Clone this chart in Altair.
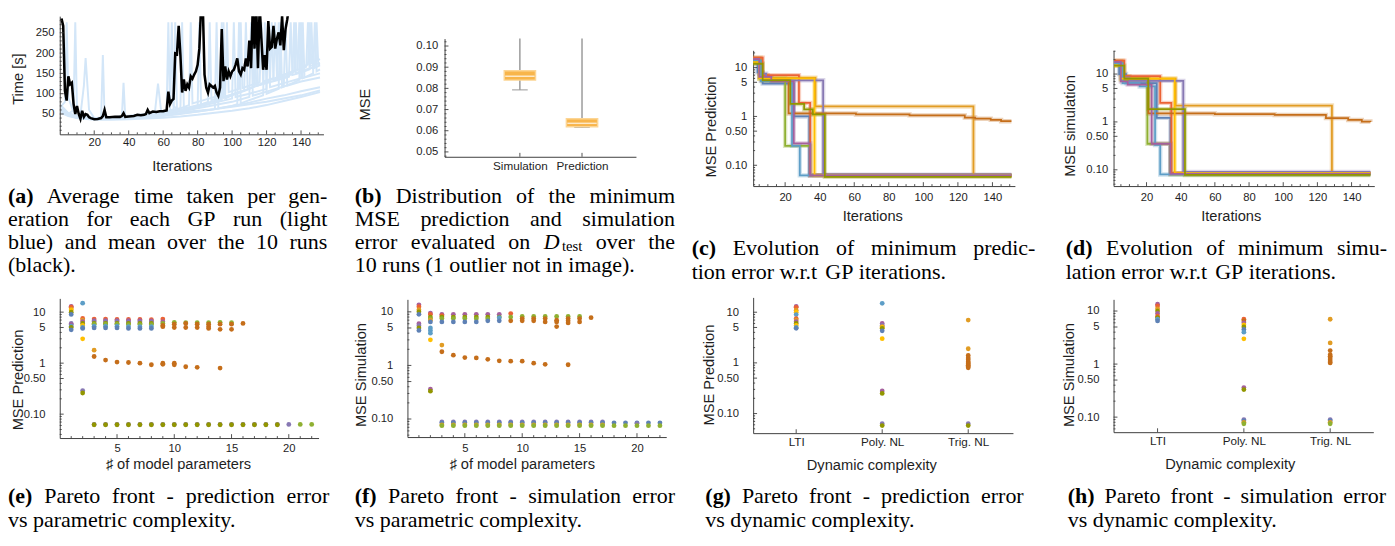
import altair as alt
import pandas as pd

# ---------------- palette / fonts ----------------
PALETTE = ["#5E81B5", "#E19C24", "#8FB032", "#EB6235", "#8778B3",
           "#C56E1A", "#5D9EC7", "#FFBF00", "#A5609D", "#929600"]
RUNS = [1, 2, 3, 4, 5, 6, 7, 8, 9, 10]
SANS = "Liberation Sans"
SERIF = "Liberation Serif"
AXC = "#3c3c3c"
TXT = "#1e1e1e"
LIGHT_BLUE = "#d3e6f8"

# ---------------- (a) time per generation (10 runs + mean) ----------------
A_X1 = [1, 5, 10, 20, 30, 40, 50, 60, 70, 80, 90, 100, 110, 120, 130, 140, 151]
A_T1 = [60, 48, 40, 36, 36, 37, 39, 41, 44, 48, 53, 58, 64, 72, 82, 92, 104]
A_X2 = [1, 3, 4, 5, 8, 10, 20, 30, 40, 50, 60, 70, 80, 90, 100, 110, 120, 130, 140, 151]
A_T2 = [70, 80, 276, 90, 55, 45, 38, 38, 40, 42, 45, 50, 56, 62, 70, 78, 88, 96, 106, 116]
A_X3 = [1, 5, 8, 9, 10, 12, 14, 15, 17, 20, 30, 40, 50, 55, 57, 59, 62, 63, 64, 65, 66, 70, 80, 90,
        100, 110, 120, 130, 140, 151]
A_T3 = [55, 50, 60, 276, 60, 48, 120, 188, 60, 40, 38, 40, 43, 46, 125, 50, 52, 276, 60, 276, 70, 55,
        58, 62, 68, 74, 80, 88, 96, 108]
A_X4 = [1, 5, 10, 20, 24, 25, 26, 30, 36, 37, 38, 45, 50, 60, 70, 80, 90, 100, 110, 111, 112, 120, 130,
        131, 132, 140, 151]
A_T4 = [65, 52, 43, 38, 40, 195, 45, 39, 40, 127, 42, 44, 46, 50, 56, 64, 72, 80, 92, 276, 95, 105, 118,
        276, 120, 130, 140]
A_X5 = [1, 5, 10, 20, 30, 40, 50, 60, 66, 67, 68, 75, 80, 81, 82, 90, 100, 101, 102, 110, 120, 121, 122,
        130, 140, 141, 142, 151]
A_T5 = [58, 50, 44, 39, 38, 40, 43, 46, 52, 276, 56, 62, 66, 276, 70, 78, 88, 276, 92, 100, 112, 276, 116,
        126, 138, 276, 140, 150]
A_X6 = [1, 5, 10, 20, 30, 40, 50, 60, 70, 71, 72, 80, 90, 93, 94, 95, 100, 105, 110, 113, 114, 115, 120,
        125, 130, 133, 134, 135, 140, 145, 146, 147, 151]
A_T6 = [62, 48, 41, 38, 39, 43, 48, 54, 60, 276, 64, 72, 82, 86, 276, 90, 98, 105, 112, 118, 276, 120, 126,
        132, 138, 142, 276, 146, 152, 160, 276, 162, 170]
A_X7 = [1, 5, 10, 20, 30, 40, 50, 60, 70, 75, 76, 77, 85, 90, 96, 97, 98, 104, 105, 106, 110, 116, 117,
        118, 124, 125, 126, 130, 136, 137, 138, 143, 144, 145, 151]
A_T7 = [57, 46, 42, 40, 42, 46, 50, 56, 64, 72, 276, 76, 86, 92, 100, 276, 104, 112, 276, 114, 120, 128, 276,
        130, 138, 276, 140, 146, 154, 276, 158, 166, 276, 168, 176]
A_X8 = [1, 5, 10, 20, 30, 40, 50, 60, 70, 80, 86, 87, 88, 95, 100, 107, 108, 109, 115, 120, 122, 123, 124,
        130, 135, 136, 137, 140, 148, 149, 150, 151]
A_T8 = [68, 50, 44, 40, 41, 43, 47, 52, 60, 70, 80, 276, 84, 92, 98, 108, 276, 112, 120, 128, 132, 276, 134,
        142, 148, 276, 150, 156, 166, 276, 170, 172]
A_X9 = [1, 5, 10, 20, 30, 40, 50, 60, 70, 80, 90, 91, 92, 100, 103, 104, 105, 110, 118, 119, 120, 127, 128,
        129, 135, 139, 140, 141, 147, 148, 149, 151]
A_T9 = [52, 45, 40, 38, 39, 41, 44, 48, 52, 56, 62, 276, 64, 70, 74, 276, 76, 84, 96, 276, 100, 112, 276,
        116, 126, 134, 276, 138, 150, 276, 155, 160]
A_X10 = [1, 5, 10, 20, 30, 40, 50, 60, 70, 80, 90, 94, 95, 96, 100, 108, 112, 113, 114, 120, 126, 127, 128,
         132, 138, 139, 140, 144, 145, 146, 151]
A_T10 = [70, 52, 45, 40, 41, 43, 47, 53, 60, 68, 78, 84, 276, 88, 96, 108, 116, 276, 120, 130, 140, 276, 144,
         150, 160, 276, 165, 172, 276, 175, 185]
A_XS = [A_X1, A_X2, A_X3, A_X4, A_X5, A_X6, A_X7, A_X8, A_X9, A_X10]
A_TS = [A_T1, A_T2, A_T3, A_T4, A_T5, A_T6, A_T7, A_T8, A_T9, A_T10]
A_MEAN_X = [1, 2, 3, 4, 5, 6, 7, 8, 9, 10, 11, 12, 13, 14, 15, 16, 17, 18, 20, 22, 24, 25, 26, 27, 29,
            32, 35, 36, 37, 38, 40, 43, 45, 47, 49, 50, 51, 52, 54, 56, 58, 60, 62, 63, 64, 65, 66, 67,
            68, 69, 70] + list(range(71, 134))
A_MEAN_Y = [285, 267, 107, 83, 143, 123, 127, 75, 50, 70, 50, 38, 58, 43, 50, 48, 42, 40,
            37, 38, 40, 45, 60, 42, 42, 43, 43, 45, 52, 43, 44, 45, 48, 47, 48, 50, 60, 52, 56, 55,
            57, 57, 59, 105, 75, 83, 87, 199, 197, 267, 195,
            103, 135, 107, 123, 115, 143, 137, 147, 155, 171,
            211, 315, 315, 147, 115, 103, 123, 119, 115, 119,
            103, 95, 115, 259, 131, 167, 135, 155, 143, 155,
            159, 171, 187, 155, 147, 163, 159, 187, 167, 231,
            163, 315, 211, 315, 163, 315, 235, 159, 195, 159,
            279, 211, 215, 267, 211, 235, 251, 219, 291, 207,
            259, 283, 315]
A_YT = [50, 100, 150, 200, 250]
A_YT_MINOR = [10, 20, 30, 40, 60, 70, 80, 90, 110, 120, 130, 140, 160, 170, 180, 190, 210, 220, 230,
              240, 260, 270, 280]
A_XT = [20, 40, 60, 80, 100, 120, 140]
IT_MINOR = [5, 10, 15, 25, 30, 35, 45, 50, 55, 65, 70, 75, 85, 90, 95, 105, 110, 115, 125, 130, 135,
            145, 150]

# ---------------- (b) boxes ----------------
B_NAMES = ["Simulation", "Prediction"]
B_POS = [1, 2]
B_Q1 = [0.0839, 0.0619]
B_Q3 = [0.0883, 0.0657]
B_MED = [0.0857, 0.0635]
B_WLO = [0.0793, 0.0616]
B_WHI = [0.115, 0.115]
B_YT = [0.05, 0.06, 0.07, 0.08, 0.09, 0.10]
B_YT_MINOR = [0.048, 0.052, 0.054, 0.056, 0.058, 0.062, 0.064, 0.066, 0.068, 0.072, 0.074, 0.076,
              0.078, 0.082, 0.084, 0.086, 0.088, 0.092, 0.094, 0.096, 0.098, 0.102]

# ---------------- (c) prediction error evolution (step breakpoints) ----------------
C_X1, C_Y1 = [1, 4, 7, 25, 34, 151], [15, 8, 4.7, 1.0, 0.063, 0.063]
C_X2, C_Y2 = [1, 6, 10, 37.5, 129, 151], [16, 7, 6.2, 1.6, 0.062, 0.062]
C_X3, C_Y3 = [1, 5, 20, 34.5, 151], [14, 6, 0.25, 0.062, 0.062]
C_X4, C_Y4 = [1, 7, 28, 34.5, 151], [16, 7, 1.9, 0.062, 0.062]
C_X5, C_Y5 = [1, 5, 9, 12, 42, 151], [15, 7.5, 6, 5.5, 0.064, 0.064]
C_X6, C_Y6 = [1, 6, 22, 61, 92, 124, 130, 139, 145, 151], [14, 5.5, 1.15, 1.1, 1.05, 0.95, 0.9, 0.85, 0.8, 0.8]
C_X7, C_Y7 = [1, 6, 24, 28.5, 151], [14, 5.3, 0.25, 0.062, 0.062]
C_X8, C_Y8 = [1, 5, 37, 151], [13, 6, 0.062, 0.062]
C_X9, C_Y9 = [1, 5, 12, 25, 34.5, 151], [15, 6.5, 5.2, 0.28, 0.062, 0.062]
C_X10, C_Y10 = [1, 7, 23, 31, 36, 43, 151], [12, 5.5, 1.8, 1.4, 1.1, 0.058, 0.058]
C_XS = [C_X1, C_X2, C_X3, C_X4, C_X5, C_X6, C_X7, C_X8, C_X9, C_X10]
C_YS = [C_Y1, C_Y2, C_Y3, C_Y4, C_Y5, C_Y6, C_Y7, C_Y8, C_Y9, C_Y10]

# ---------------- (d) simulation error evolution ----------------
D_X1, D_Y1 = [1, 4, 8, 26, 34, 151], [18, 10, 6.5, 1.22, 0.085, 0.085]
D_X2, D_Y2 = [1, 6, 10, 37, 128.5, 151], [19, 9, 8, 2.2, 0.085, 0.085]
D_X3, D_Y3 = [1, 5, 20.5, 34, 151], [17, 7.5, 0.35, 0.08, 0.08]
D_X4, D_Y4 = [1, 7, 28, 34.5, 151], [19, 9, 2.5, 0.085, 0.085]
D_X5, D_Y5 = [1, 5, 10, 41.5, 151], [18, 8.5, 7.2, 0.09, 0.09]
D_X6, D_Y6 = [1, 6, 21, 60, 95, 125, 138, 146, 151], [17, 8, 1.5, 1.45, 1.4, 1.2, 1.1, 1.02, 1.0]
D_X7, D_Y7 = [1, 6, 16, 25, 28, 151], [17, 6.5, 5.5, 0.33, 0.08, 0.08]
D_X8, D_Y8 = [1, 5, 36.5, 151], [15, 8, 0.085, 0.085]
D_X9, D_Y9 = [1, 5, 9, 23, 34, 151], [18, 7, 6, 0.35, 0.082, 0.082]
D_X10, D_Y10 = [1, 7, 21, 42.5, 151], [15, 8, 1.85, 0.078, 0.078]
D_XS = [D_X1, D_X2, D_X3, D_X4, D_X5, D_X6, D_X7, D_X8, D_X9, D_X10]
D_YS = [D_Y1, D_Y2, D_Y3, D_Y4, D_Y5, D_Y6, D_Y7, D_Y8, D_Y9, D_Y10]

# ---------------- (e) prediction vs # parameters ----------------
E_XV = list(range(1, 23))
E_Y = [
    [13, 12.5, 11.5, 11, 10, 9, 6, 5.7, 5.3, 5, 4.5],
    [15, 7.5, 7, 6.5, 6, 5.5, 5, 4.8, 3, 0.29, 0.26],
    [7.3, 6.8, 6.5, 6, 5.8, 5.3, 4.9, 1.8, 1.35, 0.063, 0.062],
    [7.3, 6.8, 6.5, 6, 5.8, 5.3, 4.9, 1.15, 0.063, 0.062],
    [7.2, 6.8, 6.5, 6, 5.8, 5.3, 4.9, 1.05, 0.063, 0.062],
    [7.2, 6.8, 6.4, 6, 5.7, 5.2, 4.8, 1.03, 0.063, 0.062],
    [7.2, 6.8, 6.4, 6, 5.7, 5.2, 4.8, 1.0, 0.063, 0.062],
    [7.1, 6.7, 6.4, 6, 5.7, 5.2, 4.8, 0.93, 0.063, 0.062],
    [7.3, 6.5, 6.0, 5.5, 5.2, 1.0, 0.95, 0.063, 0.062],
    [6.3, 5.8, 5.0, 1.0, 0.93, 0.063, 0.062],
    [6.2, 6.0, 5.0, 0.85, 0.063, 0.062],
    [6.2, 5.8, 5.0, 0.83, 0.063, 0.062],
    [6.2, 5.8, 5.2, 4.8, 0.063, 0.062],
    [6.3, 5.8, 4.6, 0.8, 0.063, 0.062],
    [6.2, 5.8, 4.6, 0.063, 0.062],
    [6.0, 0.063, 0.062],
    [0.063, 0.062], [0.063, 0.062], [0.063, 0.062],
    [0.063], [0.063], [0.063]]
E_RUN = [
    [9, 4, 2, 8, 10, 1, 5, 9, 7, 10, 1],
    [7, 4, 2, 9, 10, 8, 7, 1, 8, 5, 10],
    [4, 9, 5, 10, 3, 7, 1, 2, 6, 5, 10],
    [4, 9, 5, 10, 3, 7, 1, 6, 5, 10],
    [4, 9, 5, 10, 3, 7, 1, 6, 5, 10],
    [4, 9, 5, 10, 3, 7, 1, 6, 5, 10],
    [4, 9, 5, 10, 3, 7, 1, 6, 5, 10],
    [4, 9, 5, 10, 3, 7, 1, 6, 5, 10],
    [4, 9, 3, 6, 6, 6, 6, 5, 10],
    [3, 6, 6, 6, 6, 5, 10],
    [3, 6, 6, 6, 5, 10],
    [3, 6, 6, 6, 5, 10],
    [3, 6, 6, 6, 5, 10],
    [3, 6, 6, 6, 5, 10],
    [3, 6, 6, 5, 10],
    [6, 5, 10],
    [5, 10], [5, 10], [5, 10],
    [5], [3], [3]]

# ---------------- (f) simulation vs # parameters ----------------
F_XV = list(range(1, 23))
F_Y = [
    [13.5, 12.5, 11, 10, 9, 6, 5.5, 5, 4.5],
    [9.5, 9, 8, 7.5, 7, 6.5, 5, 4.5, 4, 3, 0.36, 0.33],
    [9, 8.5, 8, 7.5, 6.5, 2.4, 1.8, 0.088, 0.085, 0.078, 0.075],
    [9, 8, 7.5, 6.5, 1.55, 0.088, 0.085, 0.078, 0.075],
    [9, 8, 7.5, 6.5, 1.4, 0.088, 0.085, 0.078, 0.075],
    [9, 8, 7.4, 6.5, 1.38, 0.088, 0.085, 0.078, 0.075],
    [9, 8, 7.4, 6.8, 1.3, 0.088, 0.085, 0.078, 0.075],
    [9, 8, 7.8, 6.8, 1.22, 0.088, 0.085, 0.078, 0.075],
    [9.3, 8, 6.8, 1.2, 0.088, 0.085, 0.078, 0.075],
    [8.2, 7.5, 6.8, 1.2, 0.088, 0.085, 0.078, 0.075],
    [8.2, 7.5, 6.8, 1.1, 0.088, 0.085, 0.078, 0.075],
    [8.2, 7.5, 6.5, 1.05, 0.088, 0.085, 0.078, 0.075],
    [8.2, 7.0, 6.5, 5.3, 0.088, 0.085, 0.078, 0.075],
    [8.2, 7.5, 6.8, 6.2, 1.03, 0.088, 0.085, 0.078, 0.075],
    [8.2, 7.5, 6.5, 0.088, 0.085, 0.078, 0.075],
    [7.8, 0.088, 0.085, 0.078, 0.075],
    [0.088, 0.085, 0.078, 0.075],
    [0.085, 0.075], [0.085, 0.075],
    [0.085, 0.082, 0.075],
    [0.085, 0.075], [0.085, 0.075]]
F_RUN = [
    [9, 4, 2, 10, 1, 9, 5, 10, 1],
    [9, 4, 10, 3, 2, 1, 7, 7, 7, 8, 9, 10],
    [9, 4, 10, 3, 1, 2, 6, 5, 1, 2, 3],
    [9, 10, 3, 1, 6, 5, 1, 2, 3],
    [9, 10, 3, 1, 6, 5, 1, 2, 3],
    [9, 10, 3, 1, 6, 5, 1, 2, 3],
    [9, 10, 3, 1, 6, 5, 1, 2, 3],
    [9, 10, 7, 1, 6, 5, 1, 2, 3],
    [4, 3, 6, 6, 5, 1, 2, 3],
    [3, 6, 6, 6, 5, 1, 2, 3],
    [3, 6, 6, 6, 5, 1, 2, 3],
    [3, 6, 6, 6, 5, 1, 2, 3],
    [3, 6, 6, 6, 5, 1, 2, 3],
    [3, 6, 6, 6, 6, 5, 1, 2, 3],
    [3, 6, 6, 5, 1, 2, 3],
    [6, 5, 1, 2, 3],
    [5, 1, 2, 3],
    [1, 3], [1, 3],
    [1, 5, 3],
    [1, 3], [1, 3]]
PARAM_XT = [5, 10, 15, 20]
PARAM_MINOR = [1, 2, 3, 4, 6, 7, 8, 9, 11, 12, 13, 14, 16, 17, 18, 19, 21, 22]

# ---------------- (g)/(h) vs dynamic complexity ----------------
CATS = ["LTI", "Poly. NL", "Trig. NL"]
CAT_POS = [1, 2, 3]
G_Y = [[13, 12.5, 11, 10, 9, 7.5, 7, 6.5, 6, 5.5, 5, 4.8],
       [15, 6, 5.5, 5.2, 5, 4.8, 4.3, 3, 0.28, 0.25, 0.063, 0.058],
       [7, 1.9, 1.4, 1.25, 1.15, 1.05, 1.0, 0.95, 0.9, 0.85, 0.8, 0.063, 0.058]]
G_RUN = [[9, 4, 2, 8, 7, 4, 2, 9, 10, 8, 7, 1],
         [7, 9, 5, 2, 8, 10, 1, 8, 9, 10, 5, 10],
         [2, 2, 6, 6, 6, 6, 6, 6, 6, 6, 6, 5, 10]]
H_Y = [[13.5, 12.5, 11, 10, 9, 8, 7.5, 7, 6.5],
       [7, 6.5, 6, 5.5, 5, 4.5, 4, 3, 0.36, 0.33, 0.09, 0.085, 0.08, 0.075],
       [7, 2.5, 1.8, 1.5, 1.4, 1.3, 1.2, 1.1, 1.05, 0.09, 0.085, 0.08, 0.075]]
H_RUN = [[9, 4, 2, 10, 9, 4, 10, 7, 1],
         [4, 6, 9, 8, 10, 1, 7, 8, 9, 10, 5, 1, 2, 3],
         [2, 2, 6, 6, 6, 6, 6, 6, 6, 5, 1, 2, 3]]

LOG_MAJOR = [0.1, 0.5, 1, 5, 10]
LOG_MINOR = [0.03, 0.04, 0.05, 0.06, 0.07, 0.08, 0.09, 0.2, 0.3, 0.4, 0.6, 0.7, 0.8, 0.9,
             2, 3, 4, 6, 7, 8, 9, 20, 30]
LOG_EXPR = "datum.value < 1 ? format(datum.value, '.2f') : format(datum.value, 'd')"

# ---------------- captions ----------------
SUB_TOKEN = "\U0001D49Ftest"
CAP_A_LABEL, CAP_A = "(a)", ["Average time taken per gen-", "eration for each GP run (light",
                             "blue) and mean over the 10 runs", "(black)."]
CAP_B_LABEL, CAP_B = "(b)", ["Distribution of the minimum", "MSE prediction and simulation",
                             "error evaluated on " + SUB_TOKEN + " over the", "10 runs (1 outlier not in image)."]
CAP_C_LABEL, CAP_C = "(c)", ["Evolution of minimum predic-", "tion error w.r.t GP iterations."]
CAP_D_LABEL, CAP_D = "(d)", ["Evolution of minimum simu-", "lation error w.r.t GP iterations."]
CAP_E_LABEL, CAP_E = "(e)", ["Pareto front - prediction error", "vs parametric complexity."]
CAP_F_LABEL, CAP_F = "(f)", ["Pareto front - simulation error", "vs parametric complexity."]
CAP_G_LABEL, CAP_G = "(g)", ["Pareto front - prediction error", "vs dynamic complexity."]
CAP_H_LABEL, CAP_H = "(h)", ["Pareto front - simulation error", "vs dynamic complexity."]

# Times-compatible advance widths (per 1000 em) used to justify the caption lines
TNR = dict(zip(" ()-.,:[]", [250, 333, 333, 333, 250, 250, 278, 333, 333]))
TNR.update({d: 500 for d in "0123456789"})
TNR.update(dict(zip("ABCDEFGHIJKLMNOPQRSTUVWXYZ",
                    [722, 667, 667, 722, 611, 556, 722, 722, 333, 389, 722, 611, 889, 722, 722, 556,
                     722, 667, 556, 611, 722, 722, 944, 722, 722, 611])))
TNR.update(dict(zip("abcdefghijklmnopqrstuvwxyz",
                    [444, 500, 444, 500, 444, 333, 500, 500, 278, 278, 500, 278, 778, 500, 500, 500,
                     500, 333, 389, 278, 500, 500, 722, 500, 500, 444])))
TNR_BOLD = dict(zip("()abcdefgh", [333, 333, 500, 556, 444, 556, 444, 333, 500, 556]))
CAP_FS = 22.5
SUB_FS = 15


def tw(s, table=TNR, fs=CAP_FS):
    return sum(table.get(c, 500) for c in s) * fs / 1000.0


# ================= helpers =================
COLOR = alt.Color("run:N", scale=alt.Scale(domain=RUNS, range=PALETTE), legend=None)


def lin(dom, rng=None):
    kw = dict(domain=dom, nice=False, zero=False)
    if rng is not None:
        kw["range"] = rng
    return alt.Scale(**kw)


def logs(dom):
    return alt.Scale(type="log", domain=dom, nice=False)


def mk_axis(title, values, tx=None, ty=None, lp=6, expr=None, fmt=None, offset=None, lfs=11.5):
    kw = dict(values=values, labelPadding=lp, ticks=False, tickSize=0, grid=False, domainColor=AXC,
              domainWidth=1, labelFont=SANS, labelFontSize=lfs, labelColor=TXT, labelFlush=False,
              labelOverlap=False)
    if title is not None:
        kw.update(title=title, titleFont=SANS, titleFontSize=15, titleColor=TXT,
                  titleFontWeight="normal", titleX=tx, titleY=ty, titleAlign="center",
                  titleBaseline="middle")
    else:
        kw["title"] = None
    if expr:
        kw["labelExpr"] = expr
    if fmt:
        kw["format"] = fmt
    if offset is not None:
        kw["offset"] = offset
    return alt.Axis(**kw)


def yticks(vals, scale, ax, x0=0, length=4):
    return alt.Chart(pd.DataFrame({"t": vals})).mark_rule(color=AXC, strokeWidth=0.9).encode(
        y=alt.Y("t:Q", scale=scale, axis=ax), x=alt.value(x0), x2=alt.value(x0 + length))


def xticks(vals, scale, ax, h, length=4):
    return alt.Chart(pd.DataFrame({"t": vals})).mark_rule(color=AXC, strokeWidth=0.9).encode(
        x=alt.X("t:Q", scale=scale, axis=ax), y=alt.value(h), y2=alt.value(h - length))


def log_minor(dom):
    return [v for v in LOG_MINOR if dom[0] <= v <= dom[1]]


def spacer(h):
    return alt.Chart(pd.DataFrame({"s": [""]})).mark_text().encode(
        text="s:N", x=alt.value(0), y=alt.value(h / 2.0)).properties(width=1, height=h)


def caption(label, lines, x0, y0, step, width, height, anchor):
    reg, bold, ital, sub = [], [], [], []
    d_w = 722 * CAP_FS / 1000.0
    for i, line in enumerate(lines):
        words = line.split(" ")
        toks = ([label] if i == 0 else []) + words
        kinds = (["bold"] if i == 0 else []) + ["reg"] * len(words)
        wds = []
        for t, k in zip(toks, kinds):
            if k == "bold":
                wds.append(tw(t, TNR_BOLD))
            elif t == SUB_TOKEN:
                wds.append(d_w + 2.5 + tw("test", fs=SUB_FS))
            else:
                wds.append(tw(t))
        last = i == len(lines) - 1
        gap = tw(" ")
        if not last and len(toks) > 1:
            gap = max(gap, (width - sum(wds)) / (len(toks) - 1))
        px = 0.0
        for t, k, wd in zip(toks, kinds, wds):
            if k == "bold":
                bold.append({"i": i, "px": px, "t": t})
            elif t == SUB_TOKEN:
                ital.append({"i": i, "px": px, "t": "D"})
                sub.append({"i": i, "px": px + d_w + 2.5, "t": "test"})
            else:
                reg.append({"i": i, "px": px, "t": t})
            px += wd + gap
    ysc = alt.Scale(domain=[0, 1], range=[y0, y0 + step], nice=False, zero=False)
    xsc = alt.Scale(domain=[0, 500], range=[x0, x0 + 500], nice=False, zero=False)
    enc = dict(x=alt.X("px:Q", scale=xsc, axis=None), y=alt.Y("i:Q", scale=ysc, axis=None), text="t:N")
    base = dict(font=SERIF, color="black", align="left", baseline="middle")
    layers = [alt.Chart(pd.DataFrame({"i": [0]})).mark_rule(opacity=0).encode(
        x=alt.value(anchor), x2=alt.value(anchor), y=alt.value(0), y2=alt.value(1))]
    layers.append(alt.Chart(pd.DataFrame(reg)).mark_text(fontSize=CAP_FS, **base).encode(**enc))
    layers.append(alt.Chart(pd.DataFrame(bold)).mark_text(fontSize=CAP_FS, fontWeight="bold", **base).encode(**enc))
    if ital:
        layers.append(alt.Chart(pd.DataFrame(ital)).mark_text(fontSize=CAP_FS, fontStyle="italic", **base).encode(**enc))
        layers.append(alt.Chart(pd.DataFrame(sub)).mark_text(fontSize=SUB_FS, dy=4, **base).encode(**enc))
    return alt.layer(*layers).properties(width=1, height=height)


def scatter_df(xv, ylists, rlists):
    rows = []
    for x, ys, rs in zip(xv, ylists, rlists):
        assert len(ys) == len(rs), (x, len(ys), len(rs))
        for y, r in zip(ys, rs):
            rows.append({"x": x, "y": y, "run": r})
    return pd.DataFrame(rows)


def step_df(xs_list, ys_list):
    rows = []
    for run, xs, ys in zip(RUNS, xs_list, ys_list):
        assert len(xs) == len(ys)
        for x, y in zip(xs, ys):
            rows.append({"run": run, "it": x, "mse": y})
    return pd.DataFrame(rows)


# ================= panel (a) =================
W_A, H_A = 270, 121
xs_a, ys_a = lin([0, 153]), lin([0, 291])
ax_ax = mk_axis("Iterations", A_XT, 125, 32, 2.7)
ax_ay = mk_axis("Time [s]", A_YT, -43, 64, 6)
df_a = step_df(A_XS, A_TS).rename(columns={"mse": "t"})
df_mean = pd.DataFrame({"it": A_MEAN_X, "t": A_MEAN_Y})
a_runs = alt.Chart(df_a).mark_line(color=LIGHT_BLUE, strokeWidth=2, clip=True).encode(
    x=alt.X("it:Q", scale=xs_a, axis=ax_ax), y=alt.Y("t:Q", scale=ys_a, axis=ax_ay), detail="run:N")
a_mean = alt.Chart(df_mean).mark_line(color="black", strokeWidth=2.6, clip=True).encode(
    x=alt.X("it:Q", scale=xs_a, axis=ax_ax), y=alt.Y("t:Q", scale=ys_a, axis=ax_ay))
panel_a = alt.layer(a_runs, a_mean,
                    yticks(A_YT, ys_a, ax_ay, 0, 4), yticks(A_YT_MINOR, ys_a, ax_ay, 0, 2),
                    xticks(A_XT, xs_a, ax_ax, H_A, 4), xticks(IT_MINOR, xs_a, ax_ax, H_A, 2)
                    ).properties(width=W_A, height=H_A)

# ================= panel (b) =================
W_B, H_B = 234, 121
xs_b = lin([-0.134, 2.79], [38, 234])
ys_b = lin([0.0477, 0.1035])
b_expr = "datum.value == 1 ? '%s' : '%s'" % (B_NAMES[0], B_NAMES[1])
ax_bx = mk_axis(None, B_POS, lp=3.7, expr=b_expr, lfs=12)
ax_by = mk_axis("MSE", B_YT, -82, 67, 7, fmt=".2f", offset=-38)
df_b = pd.DataFrame({"pos": B_POS, "name": B_NAMES, "q1": B_Q1, "q3": B_Q3, "med": B_MED,
                     "wlo": B_WLO, "whi": B_WHI})
BX = alt.X("pos:Q", scale=xs_b, axis=ax_bx)
b_whisk = alt.Chart(df_b).mark_rule(color="#8a8a8a", strokeWidth=1.3, clip=True).encode(
    x=BX, y=alt.Y("wlo:Q", scale=ys_b, axis=ax_by), y2="whi:Q")
b_cap = alt.Chart(df_b).mark_tick(orient="horizontal", size=16, thickness=1.3, color="#8a8a8a").encode(
    x=BX, y=alt.Y("wlo:Q", scale=ys_b, axis=ax_by))
b_box = alt.Chart(df_b).mark_bar(size=32, fill="#F8B54B", stroke="#FCD594", strokeWidth=1.5).encode(
    x=BX, y=alt.Y("q1:Q", scale=ys_b, axis=ax_by), y2="q3:Q")
b_med = alt.Chart(df_b).mark_tick(orient="horizontal", size=30, thickness=1.5, color="white").encode(
    x=BX, y=alt.Y("med:Q", scale=ys_b, axis=ax_by))
panel_b = alt.layer(b_whisk, b_cap, b_box, b_med,
                    yticks(B_YT, ys_b, ax_by, 38, 4), yticks(B_YT_MINOR, ys_b, ax_by, 38, 2),
                    xticks(B_POS, xs_b, ax_bx, H_B, 4)).properties(width=W_B, height=H_B)


# ================= panels (c), (d) =================
def evo_panel(xs_list, ys_list, w, h, xdom, ydom, ytitle, ytx, yty, ylp, xtx, xty):
    xs, ys = lin(xdom), logs(ydom)
    axx = mk_axis("Iterations", A_XT, xtx, xty, 5.4)
    axy = mk_axis(ytitle, LOG_MAJOR, ytx, yty, ylp, expr=LOG_EXPR)
    df = step_df(xs_list, ys_list)
    X = alt.X("it:Q", scale=xs, axis=axx)
    Y = alt.Y("mse:Q", scale=ys, axis=axy)
    halo = alt.Chart(df).mark_line(interpolate="step-after", strokeWidth=4.5, opacity=0.3, clip=True).encode(
        x=X, y=Y, color=COLOR)
    line = alt.Chart(df).mark_line(interpolate="step-after", strokeWidth=1.8, clip=True).encode(
        x=X, y=Y, color=COLOR)
    return alt.layer(halo, line,
                     yticks(LOG_MAJOR, ys, axy, 0, 4), yticks(log_minor(ydom), ys, axy, 0, 2),
                     xticks(A_XT, xs, axx, h, 4), xticks(IT_MINOR, xs, axx, h, 2)).properties(width=w, height=h)


panel_c = evo_panel(C_XS, C_YS, 268, 139, [1.5, 153], [0.0375, 22.6], "MSE Prediction", -44, 78, 6.5, 122, 30)
panel_d = evo_panel(D_XS, D_YS, 267, 139, [0.7, 153.3], [0.0457, 31.3], "MSE simulation", -45, 77, 6, 120, 30)


# ================= panels (e)-(h) =================
def pareto_panel(df, w, h, xdom, ydom, xvals, xminor, xexpr, xtitle, xtx, xty, xlp, ytitle, ytx, yty, ylp):
    xs, ys = lin(xdom), logs(ydom)
    axx = mk_axis(xtitle, xvals, xtx, xty, xlp, expr=xexpr, lfs=12 if xexpr else 11.5)
    axy = mk_axis(ytitle, LOG_MAJOR, ytx, yty, ylp, expr=LOG_EXPR)
    pts = alt.Chart(df).mark_circle(size=24, opacity=1).encode(
        x=alt.X("x:Q", scale=xs, axis=axx), y=alt.Y("y:Q", scale=ys, axis=axy), color=COLOR)
    layers = [pts, yticks(LOG_MAJOR, ys, axy, 0, 4), yticks(log_minor(ydom), ys, axy, 0, 2),
              xticks(xvals, xs, axx, h, 4)]
    if xminor:
        layers.append(xticks(xminor, xs, axx, h, 2))
    return alt.layer(*layers).properties(width=w, height=h)


cat_expr = "datum.value == 1 ? '%s' : datum.value == 2 ? '%s' : '%s'" % tuple(CATS)
SHARP = "\u266f of model parameters"
panel_e = pareto_panel(scatter_df(E_XV, E_Y, E_RUN), 265, 143, [0, 22.6], [0.034, 18.6], PARAM_XT,
                       PARAM_MINOR, None, SHARP, 121, 26, 4.7, "MSE Prediction", -43, 83, 15)
panel_f = pareto_panel(scatter_df(F_XV, F_Y, F_RUN), 265, 141, [0, 22.55], [0.046, 17.1], PARAM_XT,
                       PARAM_MINOR, None, SHARP, 117, 27, 5.5, "MSE Simulation", -48, 77, 15)
panel_g = pareto_panel(scatter_df(CAT_POS, G_Y, G_RUN), 266, 139, [0.5, 3.52], [0.041, 19.6], CAT_POS,
                       None, cat_expr, "Dynamic complexity", 121, 32, 3.4, "MSE Prediction", -46, 79, 15)
panel_h = pareto_panel(scatter_df(CAT_POS, H_Y, H_RUN), 266, 136, [0.49, 3.50], [0.052, 16.6], CAT_POS,
                       None, cat_expr, "Dynamic complexity", 119, 32, 3.4, "MSE Simulation", -46, 77, 15)

# ================= captions =================
cap_a = caption(CAP_A_LABEL, CAP_A, -53, 63, 23.6, 327, 168, -53)
cap_e = caption(CAP_E_LABEL, CAP_E, -53, 60, 24, 329, 85, -53)
cap_b = caption(CAP_B_LABEL, CAP_B, -54, 40, 23.6, 328, 146, -65)
cap_f = caption(CAP_F_LABEL, CAP_F, -54, 61, 24, 328, 85, -65)
cap_c = caption(CAP_C_LABEL, CAP_C, -63, 64, 24, 352, 114, -65)
cap_g = caption(CAP_G_LABEL, CAP_G, -49, 65, 24, 326, 85, -65)
cap_d = caption(CAP_D_LABEL, CAP_D, -49, 64, 24, 329, 116, -65)
cap_h = caption(CAP_H_LABEL, CAP_H, -47, 66, 24, 326, 85, -65)

col1 = alt.vconcat(panel_a, cap_a, panel_e, cap_e, spacing=0, bounds="flush")
col2 = alt.vconcat(spacer(23), panel_b, cap_b, panel_f, cap_f, spacing=0, bounds="flush")
col3 = alt.vconcat(spacer(35), panel_c, cap_c, panel_g, cap_g, spacing=0, bounds="flush")
col4 = alt.vconcat(spacer(35), panel_d, cap_d, panel_h, cap_h, spacing=0, bounds="flush")

chart = alt.hconcat(col1, col2, col3, col4, spacing=15).properties(
    padding={"left": 0, "top": 2, "right": 0, "bottom": 0}, background="white"
).configure_view(stroke=None)

chart.save("out.html", embed_options={"renderer": "svg", "actions": False})
